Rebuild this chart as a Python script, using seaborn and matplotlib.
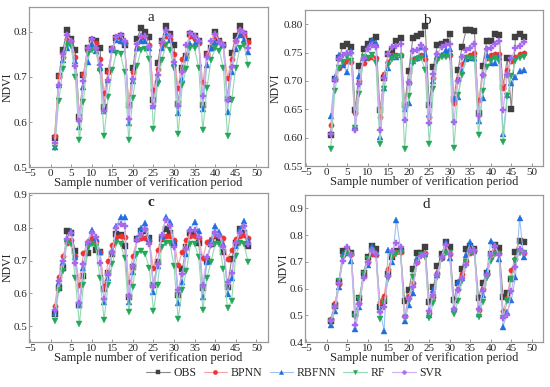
import numpy as np
import pandas as pd
import seaborn as sns
import matplotlib.pyplot as plt

sns.set_style("ticks")
plt.rcParams["font.family"] = ["Liberation Serif", "DejaVu Serif"]

sample = list(range(1, 49))
models = ["OBS", "BPNN", "RBFNN", "RF", "SVR"]

# panel a
a_obs = [0.565, 0.703, 0.76, 0.803, 0.785, 0.76, 0.612, 0.705, 0.765, 0.782, 0.78, 0.765,
         0.633, 0.713, 0.762, 0.787, 0.79, 0.77, 0.637, 0.72, 0.785, 0.808, 0.8, 0.788,
         0.648, 0.73, 0.78, 0.812, 0.795, 0.77, 0.64, 0.72, 0.747, 0.795, 0.79, 0.78,
         0.638, 0.75, 0.765, 0.8, 0.78, 0.77, 0.65, 0.753, 0.79, 0.813, 0.795, 0.78]
a_bpnn = [0.57, 0.703, 0.745, 0.785, 0.78, 0.745, 0.61, 0.707, 0.76, 0.778, 0.775, 0.74,
          0.665, 0.712, 0.765, 0.785, 0.78, 0.775, 0.635, 0.71, 0.765, 0.785, 0.785, 0.77,
          0.67, 0.717, 0.77, 0.79, 0.785, 0.75, 0.675, 0.74, 0.745, 0.79, 0.785, 0.775,
          0.688, 0.75, 0.765, 0.79, 0.78, 0.77, 0.698, 0.74, 0.78, 0.805, 0.79, 0.778]
a_rbfnn = [0.545, 0.683, 0.737, 0.763, 0.775, 0.735, 0.588, 0.678, 0.733, 0.772, 0.757, 0.72,
           0.625, 0.693, 0.76, 0.782, 0.78, 0.775, 0.597, 0.69, 0.765, 0.78, 0.78, 0.765,
           0.635, 0.695, 0.765, 0.8, 0.782, 0.73, 0.62, 0.695, 0.742, 0.773, 0.773, 0.78,
           0.63, 0.727, 0.765, 0.777, 0.78, 0.77, 0.622, 0.71, 0.762, 0.792, 0.782, 0.755]
a_rf = [0.542, 0.647, 0.717, 0.77, 0.768, 0.7, 0.56, 0.645, 0.75, 0.76, 0.758, 0.713,
        0.57, 0.655, 0.715, 0.753, 0.75, 0.71, 0.56, 0.653, 0.725, 0.76, 0.762, 0.74,
        0.585, 0.685, 0.738, 0.77, 0.76, 0.72, 0.573, 0.683, 0.718, 0.765, 0.763, 0.72,
        0.582, 0.675, 0.738, 0.763, 0.758, 0.72, 0.568, 0.648, 0.72, 0.765, 0.77, 0.727]
a_svr = [0.553, 0.683, 0.75, 0.793, 0.78, 0.725, 0.602, 0.692, 0.763, 0.785, 0.765, 0.727,
         0.625, 0.693, 0.762, 0.788, 0.792, 0.78, 0.607, 0.695, 0.773, 0.79, 0.79, 0.767,
         0.635, 0.705, 0.778, 0.803, 0.79, 0.733, 0.635, 0.71, 0.77, 0.797, 0.79, 0.78,
         0.657, 0.745, 0.78, 0.795, 0.778, 0.77, 0.648, 0.722, 0.78, 0.805, 0.798, 0.765]

# panel b
b_obs = [0.605, 0.703, 0.74, 0.762, 0.765, 0.76, 0.648, 0.727, 0.757, 0.765, 0.77, 0.777,
         0.648, 0.705, 0.748, 0.752, 0.77, 0.775, 0.657, 0.718, 0.775, 0.78, 0.783, 0.797,
         0.657, 0.725, 0.764, 0.766, 0.768, 0.783, 0.668, 0.72, 0.76, 0.79, 0.789, 0.788,
         0.643, 0.727, 0.77, 0.77, 0.782, 0.781, 0.69, 0.74, 0.65, 0.778, 0.782, 0.777]
b_bpnn = [0.623, 0.703, 0.722, 0.73, 0.735, 0.733, 0.643, 0.7, 0.732, 0.74, 0.743, 0.74,
          0.637, 0.712, 0.733, 0.745, 0.745, 0.745, 0.655, 0.697, 0.738, 0.74, 0.745, 0.738,
          0.637, 0.705, 0.74, 0.745, 0.745, 0.745, 0.662, 0.703, 0.73, 0.742, 0.745, 0.75,
          0.667, 0.71, 0.74, 0.745, 0.747, 0.747, 0.687, 0.72, 0.735, 0.743, 0.748, 0.75]
b_rbfnn = [0.638, 0.707, 0.745, 0.728, 0.715, 0.752, 0.62, 0.708, 0.74, 0.76, 0.772, 0.767,
           0.602, 0.688, 0.722, 0.742, 0.743, 0.745, 0.65, 0.662, 0.735, 0.74, 0.76, 0.747,
           0.642, 0.7, 0.742, 0.745, 0.755, 0.757, 0.668, 0.672, 0.718, 0.738, 0.74, 0.74,
           0.63, 0.67, 0.746, 0.731, 0.732, 0.742, 0.607, 0.675, 0.697, 0.707, 0.718, 0.72]
b_rf = [0.58, 0.682, 0.723, 0.733, 0.742, 0.735, 0.617, 0.677, 0.742, 0.74, 0.745, 0.732,
        0.588, 0.685, 0.728, 0.738, 0.743, 0.743, 0.58, 0.673, 0.732, 0.738, 0.74, 0.72,
        0.588, 0.685, 0.735, 0.742, 0.742, 0.742, 0.582, 0.675, 0.71, 0.74, 0.74, 0.738,
        0.604, 0.683, 0.725, 0.735, 0.74, 0.735, 0.592, 0.673, 0.708, 0.735, 0.74, 0.742]
b_svr = [0.607, 0.702, 0.738, 0.745, 0.75, 0.75, 0.614, 0.695, 0.74, 0.756, 0.763, 0.76,
         0.613, 0.706, 0.748, 0.76, 0.762, 0.765, 0.632, 0.698, 0.752, 0.755, 0.764, 0.757,
         0.625, 0.713, 0.748, 0.76, 0.763, 0.765, 0.627, 0.7, 0.742, 0.755, 0.758, 0.765,
         0.638, 0.71, 0.757, 0.758, 0.765, 0.77, 0.648, 0.71, 0.74, 0.758, 0.762, 0.768]

# panel c
c_obs = [0.537, 0.615, 0.677, 0.79, 0.785, 0.73, 0.565, 0.652, 0.723, 0.762, 0.733, 0.725,
         0.612, 0.663, 0.72, 0.782, 0.777, 0.743, 0.59, 0.68, 0.765, 0.79, 0.79, 0.77,
         0.625, 0.695, 0.765, 0.797, 0.785, 0.753, 0.595, 0.673, 0.742, 0.783, 0.783, 0.752,
         0.617, 0.7, 0.75, 0.775, 0.768, 0.727, 0.62, 0.705, 0.752, 0.797, 0.785, 0.743]
c_bpnn = [0.562, 0.65, 0.715, 0.753, 0.762, 0.715, 0.627, 0.723, 0.755, 0.77, 0.76, 0.727,
          0.623, 0.7, 0.748, 0.772, 0.775, 0.772, 0.636, 0.715, 0.765, 0.77, 0.77, 0.76,
          0.677, 0.733, 0.77, 0.775, 0.775, 0.762, 0.687, 0.727, 0.762, 0.776, 0.776, 0.77,
          0.707, 0.755, 0.765, 0.777, 0.775, 0.768, 0.705, 0.732, 0.767, 0.775, 0.778, 0.77]
c_rbfnn = [0.54, 0.635, 0.697, 0.765, 0.79, 0.71, 0.565, 0.677, 0.755, 0.792, 0.77, 0.725,
           0.573, 0.648, 0.73, 0.805, 0.833, 0.833, 0.573, 0.665, 0.768, 0.8, 0.815, 0.765,
           0.603, 0.683, 0.775, 0.833, 0.817, 0.755, 0.57, 0.635, 0.72, 0.797, 0.817, 0.79,
           0.588, 0.695, 0.76, 0.805, 0.787, 0.75, 0.598, 0.647, 0.745, 0.795, 0.82, 0.762]
c_rf = [0.517, 0.61, 0.667, 0.753, 0.75, 0.648, 0.507, 0.625, 0.737, 0.75, 0.74, 0.647,
        0.52, 0.627, 0.688, 0.752, 0.75, 0.708, 0.545, 0.62, 0.72, 0.728, 0.72, 0.677,
        0.548, 0.627, 0.74, 0.752, 0.752, 0.683, 0.523, 0.61, 0.667, 0.75, 0.75, 0.71,
        0.55, 0.648, 0.697, 0.75, 0.75, 0.673, 0.557, 0.577, 0.715, 0.752, 0.75, 0.695]
c_svr = [0.55, 0.637, 0.698, 0.765, 0.783, 0.693, 0.572, 0.688, 0.757, 0.785, 0.772, 0.693,
         0.582, 0.66, 0.725, 0.8, 0.81, 0.805, 0.593, 0.683, 0.763, 0.778, 0.797, 0.75,
         0.623, 0.69, 0.778, 0.822, 0.805, 0.74, 0.61, 0.66, 0.735, 0.79, 0.793, 0.772,
         0.627, 0.712, 0.748, 0.787, 0.775, 0.74, 0.635, 0.662, 0.753, 0.785, 0.805, 0.75]

# panel d
d_obs = [0.48, 0.535, 0.625, 0.74, 0.74, 0.733, 0.505, 0.565, 0.66, 0.72, 0.76, 0.75,
         0.53, 0.555, 0.655, 0.72, 0.74, 0.74, 0.555, 0.595, 0.672, 0.735, 0.735, 0.755,
         0.55, 0.605, 0.683, 0.728, 0.775, 0.755, 0.558, 0.62, 0.675, 0.748, 0.758, 0.75,
         0.565, 0.62, 0.66, 0.728, 0.763, 0.752, 0.567, 0.582, 0.635, 0.738, 0.78, 0.773]
d_bpnn = [0.488, 0.545, 0.617, 0.725, 0.745, 0.728, 0.5, 0.548, 0.648, 0.7, 0.73, 0.725,
          0.55, 0.573, 0.675, 0.725, 0.738, 0.738, 0.497, 0.572, 0.62, 0.7, 0.728, 0.735,
          0.51, 0.57, 0.66, 0.715, 0.745, 0.73, 0.525, 0.6, 0.655, 0.703, 0.735, 0.74,
          0.52, 0.6, 0.655, 0.72, 0.745, 0.735, 0.515, 0.565, 0.668, 0.71, 0.745, 0.735]
d_rbfnn = [0.463, 0.517, 0.605, 0.73, 0.735, 0.705, 0.448, 0.53, 0.65, 0.69, 0.76, 0.733,
           0.52, 0.443, 0.745, 0.7, 0.858, 0.75, 0.478, 0.54, 0.583, 0.71, 0.73, 0.73,
           0.5, 0.595, 0.652, 0.72, 0.773, 0.715, 0.522, 0.625, 0.64, 0.725, 0.773, 0.74,
           0.505, 0.575, 0.665, 0.78, 0.762, 0.71, 0.458, 0.513, 0.557, 0.643, 0.865, 0.717]
d_rf = [0.475, 0.527, 0.63, 0.715, 0.735, 0.725, 0.495, 0.56, 0.655, 0.71, 0.74, 0.725,
        0.488, 0.545, 0.635, 0.72, 0.73, 0.735, 0.49, 0.555, 0.645, 0.7, 0.725, 0.72,
        0.49, 0.548, 0.645, 0.71, 0.735, 0.733, 0.505, 0.555, 0.63, 0.7, 0.732, 0.735,
        0.495, 0.55, 0.64, 0.705, 0.73, 0.73, 0.49, 0.553, 0.635, 0.705, 0.735, 0.735]
d_svr = [0.478, 0.53, 0.62, 0.703, 0.757, 0.725, 0.465, 0.543, 0.638, 0.7, 0.745, 0.728,
         0.512, 0.533, 0.648, 0.74, 0.772, 0.755, 0.495, 0.56, 0.605, 0.695, 0.722, 0.73,
         0.515, 0.578, 0.65, 0.72, 0.765, 0.728, 0.522, 0.595, 0.64, 0.69, 0.745, 0.745,
         0.523, 0.59, 0.65, 0.725, 0.76, 0.725, 0.49, 0.5, 0.59, 0.68, 0.748, 0.735]

panels = {
    "a": [a_obs, a_bpnn, a_rbfnn, a_rf, a_svr],
    "b": [b_obs, b_bpnn, b_rbfnn, b_rf, b_svr],
    "c": [c_obs, c_bpnn, c_rbfnn, c_rf, c_svr],
    "d": [d_obs, d_bpnn, d_rbfnn, d_rf, d_svr],
}

line_colors = ["#8a8a8a", "#f4a3a3", "#9cc2f2", "#93d8b2", "#cfb0f2"]
marker_colors = ["#404040", "#ee3333", "#1f6fe0", "#23a85a", "#a568ee"]
markers = ["s", "o", "^", "v", "P"]

ylims = {"a": (0.5, 0.855), "b": (0.55, 0.825), "c": (0.452, 0.905), "d": (0.4, 0.95)}
yticks = {"a": [0.5, 0.6, 0.7, 0.8], "b": [0.55, 0.6, 0.65, 0.7, 0.75, 0.8],
          "c": [0.5, 0.6, 0.7, 0.8, 0.9], "d": [0.4, 0.5, 0.6, 0.7, 0.8, 0.9]}
positions = {"a": [0.053, 0.568, 0.434, 0.414], "b": [0.555, 0.571, 0.433, 0.403],
             "c": [0.053, 0.116, 0.434, 0.385], "d": [0.555, 0.116, 0.433, 0.380]}

fig = plt.figure(figsize=(5.5, 3.87), dpi=100)

for key, series in panels.items():
    ax = fig.add_axes(positions[key])
    for name, vals, lc, mc, m in zip(models, series, line_colors, marker_colors, markers):
        sns.lineplot(x=sample, y=vals, ax=ax, color=lc, linewidth=0.8, marker=m,
                     markersize=3.8, markerfacecolor=mc, markeredgecolor=mc,
                     markeredgewidth=0.3, label=name, legend=False)
    ax.set_xlim(-5.2, 52.8)
    ax.set_xticks(np.arange(-5, 51, 5))
    ax.set_ylim(*ylims[key])
    ax.set_yticks(yticks[key])
    if key == "b":
        ax.set_yticklabels([f"{v:.2f}" for v in yticks[key]])
    ax.tick_params(labelsize=8, length=2, width=0.6, color="#888888",
                   direction="in", pad=1.5)
    for sp in ax.spines.values():
        sp.set_color("#999999")
        sp.set_linewidth(0.9)
    ax.set_xlabel("Sample number of verification period", fontsize=9, labelpad=-1)
    ax.set_ylabel("NDVI", fontsize=8.5)
    ax.yaxis.set_label_coords(-0.066 if key != "b" else -0.098, 0.5)
    ax.text(0.51, 0.935, key, transform=ax.transAxes, ha="center", va="center",
            fontsize=11, fontweight="bold" if key == "c" else "normal")
    if key == "a":
        handles, labels = ax.get_legend_handles_labels()

fig.legend(handles, labels, loc="center", bbox_to_anchor=(0.535, 0.036), ncol=5,
           frameon=False, fontsize=8.5, handlelength=2.0, columnspacing=0.6,
           handletextpad=0.3, borderaxespad=0, markerscale=0.8)

fig.savefig("out.png", dpi=100)
